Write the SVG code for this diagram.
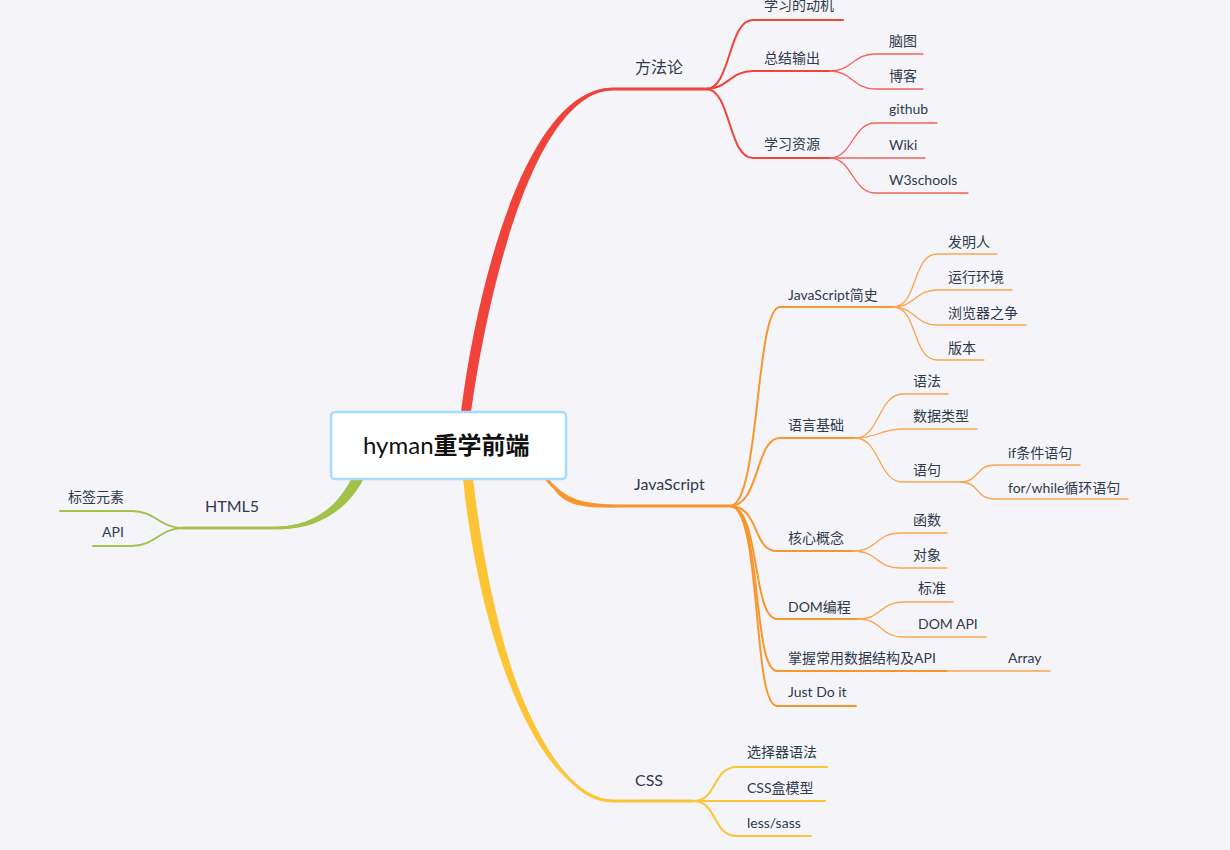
<svg xmlns="http://www.w3.org/2000/svg" width="1230" height="850" viewBox="0 0 1230 850">
<style>
text{font-family:Lato,"Noto Sans CJK SC",sans-serif;fill:#2f3a4c;font-size:14px}
.m{font-size:16px}
.l{fill:none;stroke-linecap:round}
.r2{stroke:#f0433a;stroke-width:2}
.r3{stroke:#f2625a;stroke-width:1.3}
.o2{stroke:#f8962e;stroke-width:2}
.o3{stroke:#f9a54f;stroke-width:1.3}
.y2{stroke:#fdc536;stroke-width:2}
.g2{stroke:#a2c24a;stroke-width:2}
</style>
<rect width="1230" height="850" fill="#f5f5f9"/>
<g id="connectors">
  <!-- main branches -->
  <path d="M461,412 C479,270 531,87 613,88 L613,90 C539,92 491,270 471,412 Z" fill="#f0433a"/>
  <path class="l" d="M466,412 C485,270 535,89 613,89 H708" stroke="#f0433a" stroke-width="3"/>
  <path d="M540,474 C561,501 585,505 620,505 L620,507 C585,509 559,507 549,479 Z" fill="#f8962e"/>
  <path class="l" d="M545,477 C565,503 585,506 620,506 H730" stroke="#f8962e" stroke-width="3"/>
  <path d="M463,478 C477,620 532,799 613,800 L613,802 C536,803 489,620 473,478 Z" fill="#fdc536"/>
  <path class="l" d="M468,479 C483,620 540,801 613,801 H693" stroke="#fdc536" stroke-width="3"/>
  <path d="M353,475 C337,510 310,526 275,527 L275,529 C314,531 346,512 363,480 Z" fill="#a2c24a"/>
  <path class="l" d="M358,478 C340,512 310,528 275,528 H183" stroke="#a2c24a" stroke-width="3"/>
  <!-- 方法论 -->
  <path class="l r2" d="M706,89 C731,89 728,20 753,20 H843"/>
  <path class="l r2" d="M706,89 C728,89 730,71 753,71 H830"/>
  <path class="l r2" d="M706,89 C731,89 728,158 753,158 H830"/>
  <path class="l r3" d="M830,71 C852,71 853,54 875,54 H923"/>
  <path class="l r3" d="M830,71 C852,71 853,89 875,89 H923"/>
  <path class="l r3" d="M830,158 C852,158 853,123 875,123 H937"/>
  <path class="l r3" d="M830,158 H925"/>
  <path class="l r3" d="M830,158 C852,158 853,193 875,193 H968"/>
  <!-- JavaScript -->
  <path class="l o2" d="M730,506 C760,506 755,307 780,307 H893"/>
  <path class="l o2" d="M730,506 C760,506 755,438 780,438 H855"/>
  <path class="l o2" d="M730,506 C760,506 752,551 777,551 H853"/>
  <path class="l o2" d="M730,506 C760,506 752,619 777,619 H858"/>
  <path class="l o2" d="M730,506 C762,506 752,671 777,671 H947"/>
  <path class="l o2" d="M730,506 C762,506 752,706 777,706 H856"/>
  <path class="l o3" d="M893,307 C918,307 912,254 937,254 H997"/>
  <path class="l o3" d="M893,307 C915,307 915,290 937,290 H1012"/>
  <path class="l o3" d="M893,307 C915,307 915,325 937,325 H1026"/>
  <path class="l o3" d="M893,307 C918,307 912,360 937,360 H984"/>
  <path class="l o3" d="M855,438 C880,438 878,394 903,394 H948"/>
  <path class="l o3" d="M855,438 C878,438 880,429 903,429 H977"/>
  <path class="l o3" d="M855,438 C880,438 878,482 903,482 H960"/>
  <path class="l o3" d="M960,482 C980,482 975,465 995,465 H1080"/>
  <path class="l o3" d="M960,482 C980,482 975,499 995,499 H1128"/>
  <path class="l o3" d="M853,551 C878,551 876,533 900,533 H947"/>
  <path class="l o3" d="M853,551 C878,551 876,568 900,568 H947"/>
  <path class="l o3" d="M858,619 C882,619 880,602 903,602 H953"/>
  <path class="l o3" d="M858,619 C882,619 880,637 903,637 H986"/>
  <path class="l o3" d="M947,671 H1050"/>
  <!-- CSS -->
  <path class="l y2" d="M693,801 C718,801 712,767 737,767 H827"/>
  <path class="l y2" d="M693,801 H825"/>
  <path class="l y2" d="M693,801 C718,801 712,836 737,836 H811"/>
  <!-- HTML5 -->
  <path class="l g2" d="M183,528 C160,528 155,511 132,511 H60"/>
  <path class="l g2" d="M183,528 C160,528 155,546 132,546 H93"/>
</g>
<g id="root">
  <rect x="331" y="412" width="235" height="67" rx="4" fill="#fff" stroke="#a3dcfd" stroke-width="2.5"/>
  <text x="363" y="454" style="font-size:24px;fill:#111"><tspan>hyman</tspan><tspan font-weight="bold">重学前端</tspan></text>
</g>
<g id="n-fangfalun"><text class="m" x="635" y="73">方法论</text></g>
<g id="n-dongji"><text x="764" y="10">学习的动机</text></g>
<g id="n-zongjie"><text x="764" y="63">总结输出</text></g>
<g id="n-naotu"><text x="889" y="46">脑图</text></g>
<g id="n-boke"><text x="889" y="81">博客</text></g>
<g id="n-ziyuan"><text x="764" y="149">学习资源</text></g>
<g id="n-github"><text x="889" y="114">github</text></g>
<g id="n-wiki"><text x="889" y="150">Wiki</text></g>
<g id="n-w3"><text x="889" y="185">W3schools</text></g>
<g id="n-js"><text class="m" x="634" y="490">JavaScript</text></g>
<g id="n-jsjs"><text x="788" y="300">JavaScript简史</text></g>
<g id="n-fmr"><text x="948" y="247">发明人</text></g>
<g id="n-yxhj"><text x="948" y="282">运行环境</text></g>
<g id="n-llq"><text x="948" y="318">浏览器之争</text></g>
<g id="n-bb"><text x="948" y="353">版本</text></g>
<g id="n-yyjc"><text x="788" y="430">语言基础</text></g>
<g id="n-yf"><text x="913" y="386">语法</text></g>
<g id="n-sjlx"><text x="913" y="421">数据类型</text></g>
<g id="n-yj"><text x="913" y="475">语句</text></g>
<g id="n-if"><text x="1008" y="458">if条件语句</text></g>
<g id="n-for"><text x="1008" y="493">for/while循环语句</text></g>
<g id="n-hxgn"><text x="788" y="543">核心概念</text></g>
<g id="n-hs"><text x="913" y="525">函数</text></g>
<g id="n-dx"><text x="913" y="560">对象</text></g>
<g id="n-dom"><text x="788" y="612">DOM编程</text></g>
<g id="n-bz"><text x="918" y="593">标准</text></g>
<g id="n-domapi"><text x="918" y="629">DOM API</text></g>
<g id="n-zw"><text x="788" y="663">掌握常用数据结构及API</text></g>
<g id="n-array"><text x="1008" y="663">Array</text></g>
<g id="n-jdi"><text x="788" y="697">Just Do it</text></g>
<g id="n-css"><text class="m" x="635" y="786">CSS</text></g>
<g id="n-xzq"><text x="747" y="757">选择器语法</text></g>
<g id="n-hmx"><text x="747" y="793">CSS盒模型</text></g>
<g id="n-less"><text x="747" y="828">less/sass</text></g>
<g id="n-html5"><text class="m" x="205" y="512">HTML5</text></g>
<g id="n-bqys"><text x="68" y="502">标签元素</text></g>
<g id="n-api"><text x="102" y="537">API</text></g>
</svg>
